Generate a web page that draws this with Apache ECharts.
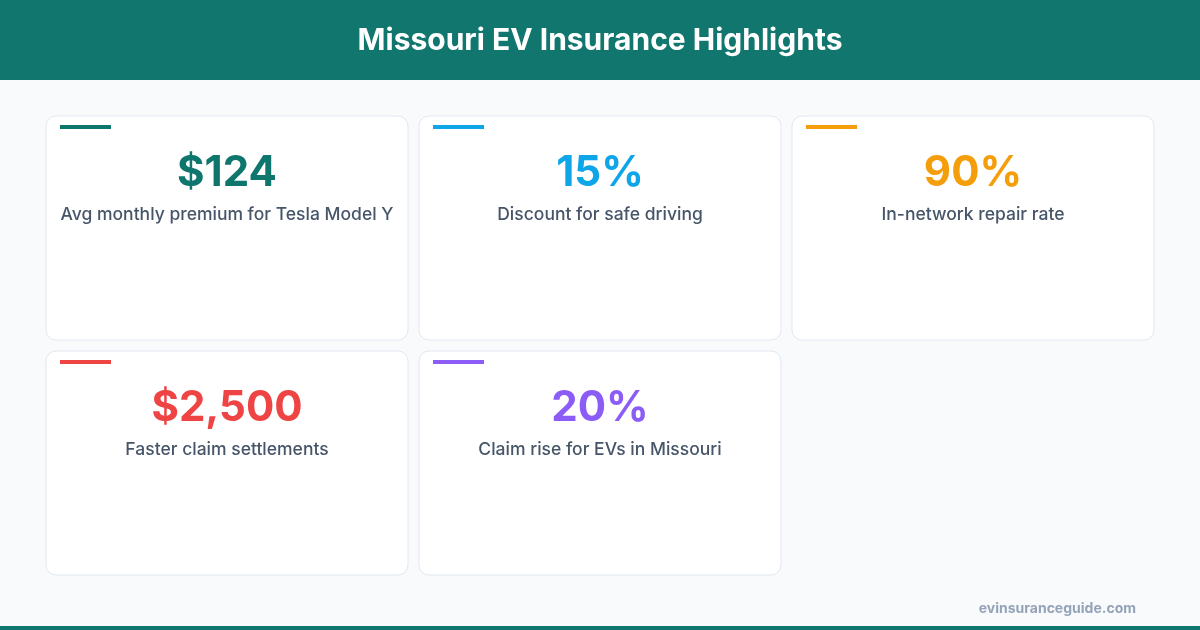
<!DOCTYPE html>
<html>
<head>
<meta charset="utf-8">
<script src="https://cdn.jsdelivr.net/npm/echarts@6/dist/echarts.min.js"></script>
<style>
  html, body { margin: 0; padding: 0; background: #f8fafc; }
  #chart { width: 1200px; height: 630px; }
</style>
</head>
<body>
<div id="chart"></div>
<script>
var title = 'Missouri EV Insurance Highlights';
var values = ['$124', '15%', '90%', '$2,500', '20%'];
var labels = [
    'Avg monthly premium for Tesla Model Y',
    'Discount for safe driving',
    'In-network repair rate',
    'Faster claim settlements',
    'Claim rise for EVs in Missouri'
];
var colors = ['#0f766e', '#0ea5e9', '#f59e0b', '#ef4444', '#8b5cf6'];
var source = 'evinsuranceguide.com';

var font = 'Inter, "Noto Sans", sans-serif';
var elements = [
    { type: 'rect', shape: { x: 0, y: 0, width: 1200, height: 80 }, style: { fill: '#11766d' } },
    { type: 'text', x: 600, y: 41, style: { text: title, fill: '#fff', font: 'bold 30px ' + font, textAlign: 'center', textVerticalAlign: 'middle' } },
    { type: 'rect', shape: { x: 0, y: 626, width: 1200, height: 4 }, style: { fill: '#11766d' } },
    { type: 'text', x: 1136, y: 609, style: { text: source, fill: '#94a3b8', font: 'bold 14px ' + font, textAlign: 'right', textVerticalAlign: 'middle' } }
];

// cards: 3 per row
values.forEach(function(v, i) {
    var col = i % 3, row = Math.floor(i / 3);
    var x = 46 + col * 373, y = 116 + row * 235;
    elements.push({ type: 'rect', shape: { x: x, y: y, width: 362, height: 224, r: 10 }, style: { fill: '#fff', stroke: '#e2e8f0', lineWidth: 1 } });
    elements.push({ type: 'rect', shape: { x: x + 14, y: y + 9, width: 51, height: 4 }, style: { fill: colors[i] } });
    elements.push({ type: 'text', x: x + 181, y: y + 57, style: { text: v, fill: colors[i], font: 'bold 42px ' + font, textAlign: 'center', textVerticalAlign: 'middle' } });
    elements.push({ type: 'text', x: x + 181, y: y + 99, style: { text: labels[i], fill: '#475569', font: '500 17.5px ' + font, textAlign: 'center', textVerticalAlign: 'middle' } });
});

var myChart = echarts.init(document.getElementById('chart'));
myChart.setOption({ backgroundColor: '#f8fafc', graphic: { elements: elements } });
</script>
</body>
</html>
